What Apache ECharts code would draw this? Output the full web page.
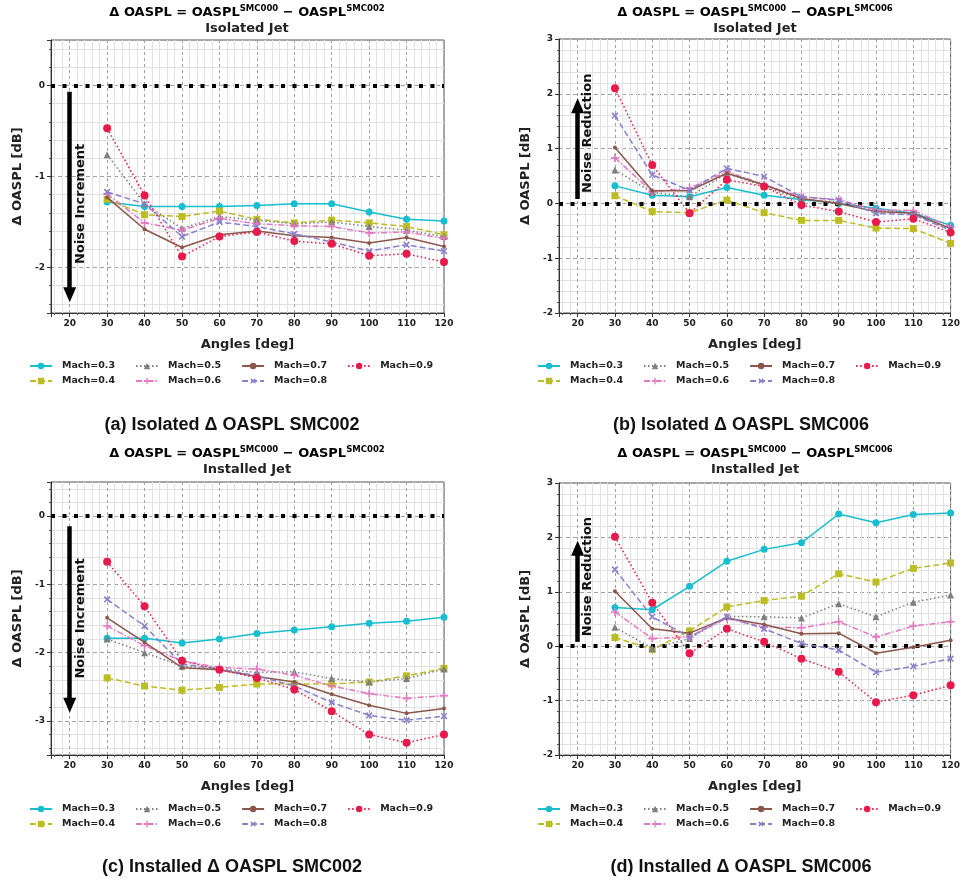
<!DOCTYPE html>
<html><head><meta charset="utf-8">
<script src="https://cdn.jsdelivr.net/npm/echarts@6/dist/echarts.min.js"></script>
<style>html,body{margin:0;padding:0;background:#fff}#c{width:963px;height:885px}</style>
</head><body><div id="c"></div><script>
// ---------- data ----------
const angles = [30, 40, 50, 60, 70, 80, 90, 100, 110, 120];
const machNames = ['Mach=0.3', 'Mach=0.4', 'Mach=0.5', 'Mach=0.6', 'Mach=0.7', 'Mach=0.8', 'Mach=0.9'];
const xTicks = [20, 30, 40, 50, 60, 70, 80, 90, 100, 110, 120];

// (a) Isolated, SMC000 - SMC002
const a_m03 = [-1.28, -1.33, -1.33, -1.33, -1.32, -1.30, -1.30, -1.39, -1.47, -1.49];
const a_m04 = [-1.25, -1.42, -1.44, -1.38, -1.47, -1.51, -1.48, -1.51, -1.55, -1.64];
const a_m05 = [-0.76, -1.30, -1.57, -1.44, -1.48, -1.52, -1.50, -1.55, -1.59, -1.66];
const a_m06 = [-1.19, -1.51, -1.59, -1.46, -1.52, -1.54, -1.55, -1.62, -1.61, -1.68];
const a_m07 = [-1.23, -1.58, -1.78, -1.64, -1.60, -1.65, -1.67, -1.73, -1.67, -1.77];
const a_m08 = [-1.17, -1.30, -1.66, -1.50, -1.55, -1.63, -1.72, -1.82, -1.75, -1.82];
const a_m09 = [-0.47, -1.21, -1.88, -1.66, -1.61, -1.71, -1.74, -1.87, -1.85, -1.94];

// (b) Isolated, SMC000 - SMC006
const b_m03 = [0.32, 0.15, 0.12, 0.29, 0.15, 0.07, 0.00, -0.09, -0.18, -0.40];
const b_m04 = [0.14, -0.15, -0.17, 0.06, -0.17, -0.31, -0.31, -0.45, -0.46, -0.73];
const b_m05 = [0.61, 0.20, 0.12, 0.55, 0.31, 0.06, 0.03, -0.12, -0.18, -0.49];
const b_m06 = [0.83, 0.21, 0.28, 0.58, 0.34, 0.12, 0.07, -0.12, -0.13, -0.43];
const b_m07 = [1.02, 0.23, 0.23, 0.55, 0.34, 0.09, 0.00, -0.15, -0.18, -0.46];
const b_m08 = [1.60, 0.52, 0.24, 0.64, 0.49, 0.12, 0.06, -0.18, -0.21, -0.49];
const b_m09 = [2.10, 0.70, -0.18, 0.43, 0.31, -0.03, -0.15, -0.34, -0.28, -0.53];

// (c) Installed, SMC000 - SMC002
const c_m03 = [-1.79, -1.79, -1.86, -1.80, -1.72, -1.67, -1.62, -1.57, -1.54, -1.48];
const c_m04 = [-2.37, -2.49, -2.55, -2.51, -2.46, -2.46, -2.46, -2.43, -2.34, -2.23];
const c_m05 = [-1.80, -2.00, -2.20, -2.24, -2.29, -2.28, -2.38, -2.43, -2.38, -2.24];
const c_m06 = [-1.61, -1.90, -2.12, -2.22, -2.24, -2.33, -2.49, -2.60, -2.67, -2.63];
const c_m07 = [-1.49, -1.85, -2.22, -2.25, -2.35, -2.43, -2.61, -2.77, -2.89, -2.82];
const c_m08 = [-1.22, -1.61, -2.17, -2.24, -2.34, -2.49, -2.73, -2.92, -2.99, -2.93];
const c_m09 = [-0.67, -1.32, -2.12, -2.25, -2.37, -2.54, -2.86, -3.20, -3.32, -3.20];

// (d) Installed, SMC000 - SMC006
const d_m03 = [0.71, 0.67, 1.10, 1.56, 1.78, 1.90, 2.43, 2.27, 2.42, 2.45];
const d_m04 = [0.16, -0.06, 0.28, 0.72, 0.84, 0.92, 1.33, 1.18, 1.43, 1.53];
const d_m05 = [0.35, -0.04, 0.14, 0.55, 0.54, 0.52, 0.78, 0.54, 0.81, 0.94];
const d_m06 = [0.63, 0.14, 0.17, 0.51, 0.35, 0.34, 0.45, 0.17, 0.37, 0.45];
const d_m07 = [1.01, 0.32, 0.24, 0.52, 0.40, 0.23, 0.24, -0.13, -0.02, 0.11];
const d_m08 = [1.41, 0.54, 0.17, 0.54, 0.32, 0.05, -0.07, -0.48, -0.37, -0.23];
const d_m09 = [2.01, 0.80, -0.13, 0.32, 0.08, -0.23, -0.47, -1.03, -0.90, -0.72];

const titleLine1 = ['SMC002', 'SMC006', 'SMC002', 'SMC006'];
const titleLine2 = ['Isolated Jet', 'Isolated Jet', 'Installed Jet', 'Installed Jet'];
const captions = ['(a) Isolated \u0394 OASPL SMC002', '(b) Isolated \u0394 OASPL SMC006',
                  '(c) Installed \u0394 OASPL SMC002', '(d) Installed \u0394 OASPL SMC006'];
const annotText = ['Noise Increment', 'Noise Reduction', 'Noise Increment', 'Noise Reduction'];
// arrow start/end and text centre (data values; arrow at x = 20, text near x = 23)
const arrowFrom = [-0.07, 0.08, -0.15, 0.08];
const arrowTo = [-2.3, 1.78, -2.77, 1.8];
const annotY = [-1.3, 1.28, -1.5, 1.28];
const annotX = [23, 22.6, 23, 22.6];
const yMin = [-2.5, -2, -3.5, -2];
const yMax = [0.5, 3, 0.5, 3];

// ---------- styles ----------
const FONT = 'DejaVu Sans';
const colors = ['#17becf', '#bcbd22', '#7f7f7f', '#e377c2', '#8c564b', '#8a80cc', '#e8194b'];
const lineTypes = ['solid', [6, 3], [1.5, 2.5], [6, 2, 1.5, 2], 'solid', [6, 3], [1.5, 2.5]];
const PLUS = 'path://M4,0L6,0L6,4L10,4L10,6L6,6L6,10L4,10L4,6L0,6L0,4L4,4Z';
const symbols = ['circle', 'rect', 'triangle', PLUS, 'circle', PLUS, 'circle'];
const symbolRot = [0, 0, 0, 0, 0, 45, 0];
const symbolSizes = [7, 7, 7, 8, 4, 8, 8];

const panelData = [
  [a_m03, a_m04, a_m05, a_m06, a_m07, a_m08, a_m09],
  [b_m03, b_m04, b_m05, b_m06, b_m07, b_m08, b_m09],
  [c_m03, c_m04, c_m05, c_m06, c_m07, c_m08, c_m09],
  [d_m03, d_m04, d_m05, d_m06, d_m07, d_m08, d_m09]
];
const grids = [
  {left: 51, top: 40, width: 393, height: 273},
  {left: 559, top: 39, width: 392, height: 274},
  {left: 51, top: 482, width: 393, height: 273},
  {left: 559, top: 483, width: 392, height: 272}
];
const titleX = [247, 755, 247, 755];
const titleY = [13, 13, 454, 454];
const captionX = [232, 741, 232, 741];
const captionY = [425, 425, 867, 867];
const legendLeft = [29, 537, 29, 537];
const legendTop = [361, 361, 804, 804];

const option = {
  animation: false,
  backgroundColor: '#fff',
  grid: grids.map(g => Object.assign({show: true, borderColor: '#555', borderWidth: 1, backgroundColor: '#fff'}, g)),
  xAxis: grids.map((g, i) => ({
    type: 'value', gridIndex: i, min: 15, max: 120, minInterval: 10, maxInterval: 10,
    name: 'Angles [deg]', nameLocation: 'middle', nameGap: 25,
    nameTextStyle: {fontFamily: FONT, fontWeight: 'bold', fontSize: 13, color: '#222'},
    axisLine: {show: true, onZero: false, lineStyle: {color: '#333'}},
    axisTick: {show: true, length: 4, lineStyle: {color: '#333'}},
    minorTick: {show: true, splitNumber: 5, length: 2, lineStyle: {color: '#555'}},
    axisLabel: {showMinLabel: false, fontFamily: FONT, fontWeight: 'bold', fontSize: 9, color: '#222', margin: 6},
    splitLine: {show: true, lineStyle: {color: '#a0a0a0', type: [3, 3], width: 1}},
    minorSplitLine: {show: true, lineStyle: {color: '#e2e2e2', width: 1}}
  })),
  yAxis: grids.map((g, i) => ({
    type: 'value', gridIndex: i, min: yMin[i], max: yMax[i], minInterval: 1, maxInterval: 1,
    name: '\u0394 OASPL [dB]', nameLocation: 'middle', nameGap: 27,
    nameTextStyle: {fontFamily: FONT, fontWeight: 'bold', fontSize: 13, color: '#222'},
    axisLine: {show: true, onZero: false, lineStyle: {color: '#333'}},
    axisTick: {show: true, length: 4, lineStyle: {color: '#333'}},
    minorTick: {show: true, splitNumber: 5, length: 2, lineStyle: {color: '#555'}},
    axisLabel: {showMinLabel: Number.isInteger(yMin[i]), showMaxLabel: Number.isInteger(yMax[i]),
      fontFamily: FONT, fontWeight: 'bold', fontSize: 9, color: '#222', margin: 6},
    splitLine: {show: true, lineStyle: {color: '#a0a0a0', type: [4, 3], width: 1}},
    minorSplitLine: {show: true, lineStyle: {color: '#e2e2e2', width: 1}}
  })),
  legend: [],
  series: [],
  graphic: []
};

panelData.forEach((arrs, p) => {
  arrs.forEach((vals, k) => {
    const s = {
      type: 'line', name: machNames[k], xAxisIndex: p, yAxisIndex: p,
      data: angles.map((a, j) => [a, vals[j]]),
      color: colors[k],
      symbol: symbols[k], symbolSize: symbolSizes[k], symbolRotate: symbolRot[k],
      showAllSymbol: true,
      lineStyle: {width: 1.5, type: lineTypes[k], color: colors[k]},
      itemStyle: {color: colors[k]},
      emphasis: {disabled: true},
      z: 3 + k
    };
    if (k === 0) {
      s.markLine = {
        silent: true, animation: false, symbol: ['none', 'none'],
        label: {show: false},
        lineStyle: {color: '#000', width: 4, type: [4, 7.5], cap: 'butt'},
        data: [{yAxis: 0}]
      };
    }
    if (k === 1) {
      s.markLine = {
        silent: true, animation: false, symbol: ['none', 'triangle'], symbolSize: [13, 15],
        label: {show: false},
        lineStyle: {color: '#000', width: 4.5, type: 'solid'},
        itemStyle: {color: '#000'},
        data: [[{coord: [20, arrowFrom[p]]}, {coord: [20, arrowTo[p]]}]]
      };
      s.markPoint = {
        silent: true, animation: false, symbol: 'circle', symbolSize: 1,
        itemStyle: {color: 'rgba(0,0,0,0)'},
        label: {show: true, formatter: annotText[p], rotate: 90, position: 'inside',
          fontFamily: FONT, fontWeight: 'bold', fontSize: 13, color: '#111'},
        data: [{coord: [annotX[p], annotY[p]]}]
      };
    }
    option.series.push(s);
  });

  const legendCommon = {
    orient: 'horizontal', left: legendLeft[p], padding: 0, itemWidth: 22, itemHeight: 8, itemGap: 20,
    selectedMode: false,
    textStyle: {fontFamily: FONT, fontWeight: 'bold', fontSize: 9.5, color: '#222', padding: [0, 0, 0, 5]}
  };
  option.legend.push(Object.assign({top: legendTop[p], data: [machNames[0], machNames[2], machNames[4], machNames[6]]}, legendCommon));
  option.legend.push(Object.assign({top: legendTop[p] + 15, data: [machNames[1], machNames[3], machNames[5]]}, legendCommon));

  option.graphic.push({
    type: 'text', x: titleX[p], y: titleY[p],
    style: {
      text: '{m|\u0394 OASPL = OASPL}{s|SMC000}{m| \u2212 OASPL}{s|' + titleLine1[p] + '}',
      align: 'center', verticalAlign: 'middle',
      rich: {
        m: {fontFamily: FONT, fontWeight: 'bold', fontSize: 13, color: '#222', lineHeight: 17},
        s: {fontFamily: FONT, fontWeight: 'bold', fontSize: 8.5, color: '#222', verticalAlign: 'top', lineHeight: 17}
      }
    }
  });
  option.graphic.push({
    type: 'text', x: titleX[p], y: titleY[p] + 16,
    style: {text: titleLine2[p], align: 'center', verticalAlign: 'middle',
      fontFamily: FONT, fontWeight: 'bold', fontSize: 13, fill: '#222'}
  });
  option.graphic.push({
    type: 'text', x: captionX[p], y: captionY[p],
    style: {text: captions[p], align: 'center', verticalAlign: 'middle',
      fontFamily: 'Liberation Sans', fontWeight: 'bold', fontSize: 18, fill: '#111'}
  });
});

const chart = echarts.init(document.getElementById('c'), null, {renderer: 'canvas'});
chart.setOption(option);
</script></body></html>
